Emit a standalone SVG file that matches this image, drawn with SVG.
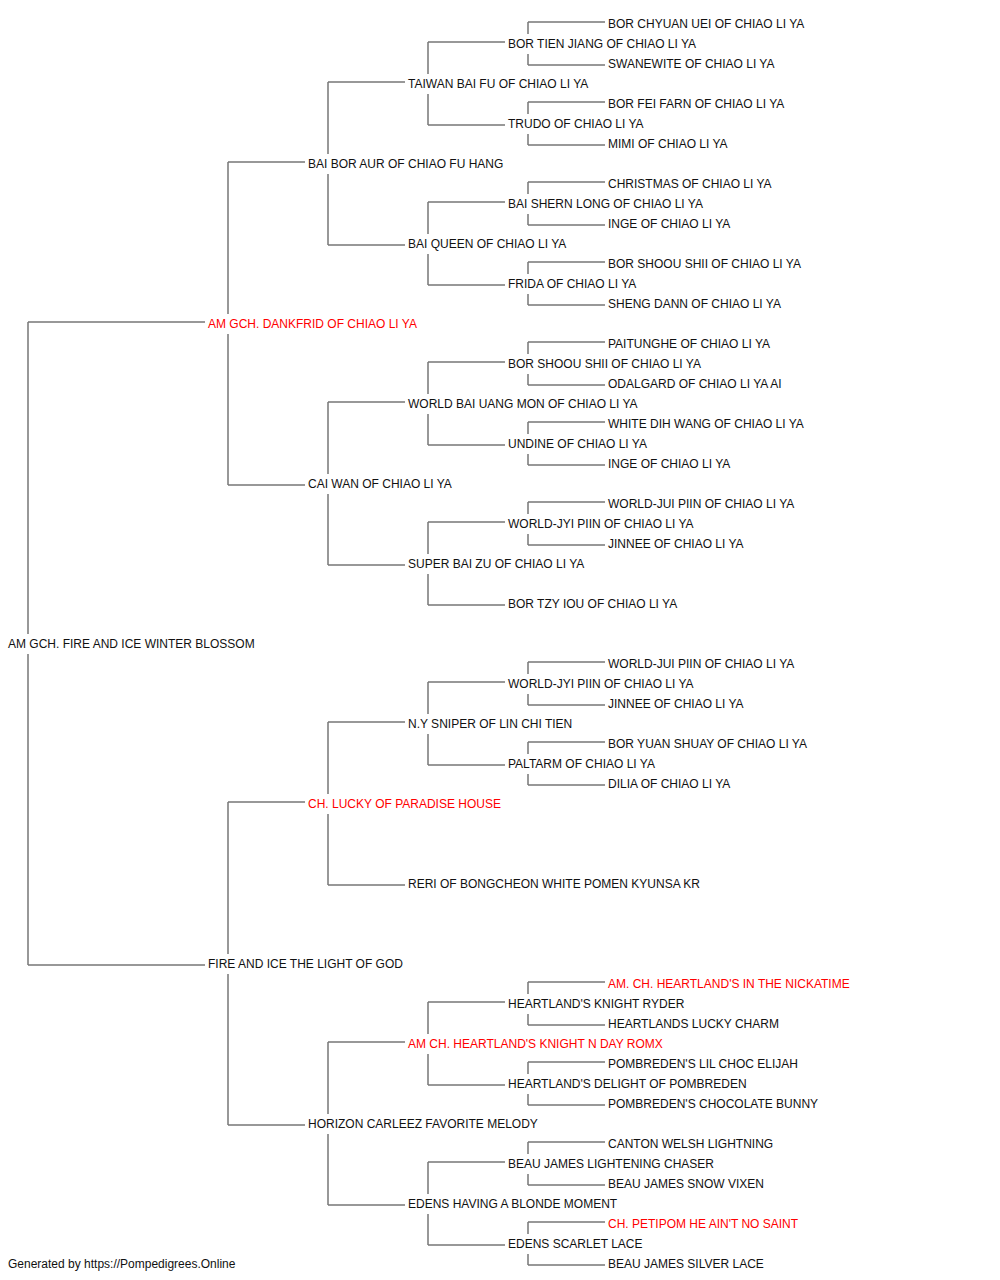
<svg xmlns="http://www.w3.org/2000/svg" width="1000" height="1280" viewBox="0 0 1000 1280">
<style>
.t{font-family:"Liberation Sans",Arial,sans-serif;font-size:12px;fill:#111}
.r{fill:#f00}
.c path{fill:none;stroke:#777;stroke-width:1.5}
</style>
<rect width="1000" height="1280" fill="#fff"/>
<g class="c" id="connectors">
<path d="M28,322V634M28,654V965M28,322H205M28,965H205"/>
<path d="M228,162V314M228,334V485M228,162H305M228,485H305"/>
<path d="M228,802V954M228,974V1125M228,802H305M228,1125H305"/>
<path d="M328,82V154M328,174V245M328,82H405M328,245H405"/>
<path d="M328,402V474M328,494V565M328,402H405M328,565H405"/>
<path d="M328,722V794M328,814V885M328,722H405M328,885H405"/>
<path d="M328,1042V1114M328,1134V1205M328,1042H405M328,1205H405"/>
<path d="M428,42V74M428,94V125M428,42H505M428,125H505"/>
<path d="M428,202V234M428,254V285M428,202H505M428,285H505"/>
<path d="M428,362V394M428,414V445M428,362H505M428,445H505"/>
<path d="M428,522V554M428,574V605M428,522H505M428,605H505"/>
<path d="M428,682V714M428,734V765M428,682H505M428,765H505"/>
<path d="M428,1002V1034M428,1054V1085M428,1002H505M428,1085H505"/>
<path d="M428,1162V1194M428,1214V1245M428,1162H505M428,1245H505"/>
<path d="M528,22V34M528,54V65M528,22H605M528,65H605"/>
<path d="M528,102V114M528,134V145M528,102H605M528,145H605"/>
<path d="M528,182V194M528,214V225M528,182H605M528,225H605"/>
<path d="M528,262V274M528,294V305M528,262H605M528,305H605"/>
<path d="M528,342V354M528,374V385M528,342H605M528,385H605"/>
<path d="M528,422V434M528,454V465M528,422H605M528,465H605"/>
<path d="M528,502V514M528,534V545M528,502H605M528,545H605"/>
<path d="M528,662V674M528,694V705M528,662H605M528,705H605"/>
<path d="M528,742V754M528,774V785M528,742H605M528,785H605"/>
<path d="M528,982V994M528,1014V1025M528,982H605M528,1025H605"/>
<path d="M528,1062V1074M528,1094V1105M528,1062H605M528,1105H605"/>
<path d="M528,1142V1154M528,1174V1185M528,1142H605M528,1185H605"/>
<path d="M528,1222V1234M528,1254V1265M528,1222H605M528,1265H605"/>
</g>
<g id="n0"><text class="t" x="8" y="648">AM GCH. FIRE AND ICE WINTER BLOSSOM</text></g>
<g id="n1"><text class="t r" x="208" y="328">AM GCH. DANKFRID OF CHIAO LI YA</text></g>
<g id="n2"><text class="t" x="208" y="968">FIRE AND ICE THE LIGHT OF GOD</text></g>
<g id="n3"><text class="t" x="308" y="168">BAI BOR AUR OF CHIAO FU HANG</text></g>
<g id="n4"><text class="t" x="308" y="488">CAI WAN OF CHIAO LI YA</text></g>
<g id="n5"><text class="t r" x="308" y="808">CH. LUCKY OF PARADISE HOUSE</text></g>
<g id="n6"><text class="t" x="308" y="1128">HORIZON CARLEEZ FAVORITE MELODY</text></g>
<g id="n7"><text class="t" x="408" y="88">TAIWAN BAI FU OF CHIAO LI YA</text></g>
<g id="n8"><text class="t" x="408" y="248">BAI QUEEN OF CHIAO LI YA</text></g>
<g id="n9"><text class="t" x="408" y="408">WORLD BAI UANG MON OF CHIAO LI YA</text></g>
<g id="n10"><text class="t" x="408" y="568">SUPER BAI ZU OF CHIAO LI YA</text></g>
<g id="n11"><text class="t" x="408" y="728">N.Y SNIPER OF LIN CHI TIEN</text></g>
<g id="n12"><text class="t" x="408" y="888">RERI OF BONGCHEON WHITE POMEN KYUNSA KR</text></g>
<g id="n13"><text class="t r" x="408" y="1048">AM CH. HEARTLAND'S KNIGHT N DAY ROMX</text></g>
<g id="n14"><text class="t" x="408" y="1208">EDENS HAVING A BLONDE MOMENT</text></g>
<g id="n15"><text class="t" x="508" y="48">BOR TIEN JIANG OF CHIAO LI YA</text></g>
<g id="n16"><text class="t" x="508" y="128">TRUDO OF CHIAO LI YA</text></g>
<g id="n17"><text class="t" x="508" y="208">BAI SHERN LONG OF CHIAO LI YA</text></g>
<g id="n18"><text class="t" x="508" y="288">FRIDA OF CHIAO LI YA</text></g>
<g id="n19"><text class="t" x="508" y="368">BOR SHOOU SHII OF CHIAO LI YA</text></g>
<g id="n20"><text class="t" x="508" y="448">UNDINE OF CHIAO LI YA</text></g>
<g id="n21"><text class="t" x="508" y="528">WORLD-JYI PIIN OF CHIAO LI YA</text></g>
<g id="n22"><text class="t" x="508" y="608">BOR TZY IOU OF CHIAO LI YA</text></g>
<g id="n23"><text class="t" x="508" y="688">WORLD-JYI PIIN OF CHIAO LI YA</text></g>
<g id="n24"><text class="t" x="508" y="768">PALTARM OF CHIAO LI YA</text></g>
<g id="n25"><text class="t" x="508" y="1008">HEARTLAND'S KNIGHT RYDER</text></g>
<g id="n26"><text class="t" x="508" y="1088">HEARTLAND'S DELIGHT OF POMBREDEN</text></g>
<g id="n27"><text class="t" x="508" y="1168">BEAU JAMES LIGHTENING CHASER</text></g>
<g id="n28"><text class="t" x="508" y="1248">EDENS SCARLET LACE</text></g>
<g id="n29"><text class="t" x="608" y="28">BOR CHYUAN UEI OF CHIAO LI YA</text></g>
<g id="n30"><text class="t" x="608" y="68">SWANEWITE OF CHIAO LI YA</text></g>
<g id="n31"><text class="t" x="608" y="108">BOR FEI FARN OF CHIAO LI YA</text></g>
<g id="n32"><text class="t" x="608" y="148">MIMI OF CHIAO LI YA</text></g>
<g id="n33"><text class="t" x="608" y="188">CHRISTMAS OF CHIAO LI YA</text></g>
<g id="n34"><text class="t" x="608" y="228">INGE OF CHIAO LI YA</text></g>
<g id="n35"><text class="t" x="608" y="268">BOR SHOOU SHII OF CHIAO LI YA</text></g>
<g id="n36"><text class="t" x="608" y="308">SHENG DANN OF CHIAO LI YA</text></g>
<g id="n37"><text class="t" x="608" y="348">PAITUNGHE OF CHIAO LI YA</text></g>
<g id="n38"><text class="t" x="608" y="388">ODALGARD OF CHIAO LI YA AI</text></g>
<g id="n39"><text class="t" x="608" y="428">WHITE DIH WANG OF CHIAO LI YA</text></g>
<g id="n40"><text class="t" x="608" y="468">INGE OF CHIAO LI YA</text></g>
<g id="n41"><text class="t" x="608" y="508">WORLD-JUI PIIN OF CHIAO LI YA</text></g>
<g id="n42"><text class="t" x="608" y="548">JINNEE OF CHIAO LI YA</text></g>
<g id="n43"><text class="t" x="608" y="668">WORLD-JUI PIIN OF CHIAO LI YA</text></g>
<g id="n44"><text class="t" x="608" y="708">JINNEE OF CHIAO LI YA</text></g>
<g id="n45"><text class="t" x="608" y="748">BOR YUAN SHUAY OF CHIAO LI YA</text></g>
<g id="n46"><text class="t" x="608" y="788">DILIA OF CHIAO LI YA</text></g>
<g id="n47"><text class="t r" x="608" y="988">AM. CH. HEARTLAND'S IN THE NICKATIME</text></g>
<g id="n48"><text class="t" x="608" y="1028">HEARTLANDS LUCKY CHARM</text></g>
<g id="n49"><text class="t" x="608" y="1068">POMBREDEN'S LIL CHOC ELIJAH</text></g>
<g id="n50"><text class="t" x="608" y="1108">POMBREDEN'S CHOCOLATE BUNNY</text></g>
<g id="n51"><text class="t" x="608" y="1148">CANTON WELSH LIGHTNING</text></g>
<g id="n52"><text class="t" x="608" y="1188">BEAU JAMES SNOW VIXEN</text></g>
<g id="n53"><text class="t r" x="608" y="1228">CH. PETIPOM HE AIN'T NO SAINT</text></g>
<g id="n54"><text class="t" x="608" y="1268">BEAU JAMES SILVER LACE</text></g>
<text class="t" x="8" y="1268">Generated by https://Pompedigrees.Online</text>
</svg>
